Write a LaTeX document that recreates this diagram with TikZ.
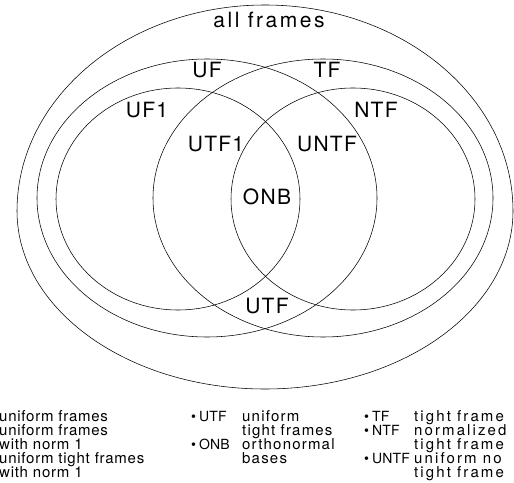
\documentclass[tikz,border=0pt]{standalone}
\usepackage{fontspec}
\setmainfont{TeX Gyre Heros}
\begin{document}
\begin{tikzpicture}[x=1bp,y=-1bp,
  curve/.style={draw=black, line width=0.55bp},
  lbl/.style={inner sep=0pt, anchor=base, font=\fontsize{21bp}{21bp}\selectfont\addfontfeatures{LetterSpace=6}},
  big/.style={inner sep=0pt, anchor=base, font=\fontsize{21bp}{21bp}\selectfont\addfontfeatures{LetterSpace=12}},
  legtag/.style={inner sep=0pt, anchor=base west, font=\fontsize{14bp}{14bp}\selectfont\addfontfeatures{LetterSpace=1}},
  legA/.style={inner sep=0pt, anchor=base west, font=\fontsize{15bp}{15bp}\selectfont\addfontfeatures{LetterSpace=5}},
  legB/.style={inner sep=0pt, anchor=base west, font=\fontsize{15bp}{15bp}\selectfont\addfontfeatures{LetterSpace=8}},
  legC/.style={inner sep=0pt, anchor=base west, font=\fontsize{15bp}{15bp}\selectfont\addfontfeatures{LetterSpace=14}}]
\useasboundingbox (0,0) rectangle (514,483);
\clip (0,0) rectangle (514,483);
% outer egg
\draw[curve] (17,211) arc[start angle=180, end angle=360, x radius=248, y radius=206]
  arc[start angle=0, end angle=180, x radius=248, y radius=178] -- cycle;
% UF and TF
\draw[curve] (207,198) ellipse[x radius=170, y radius=139];
\draw[curve] (323,198) ellipse[x radius=170, y radius=139];
% UF1 and NTF
\draw[curve] (178,199) ellipse[x radius=122, y radius=111];
\draw[curve] (353,199) ellipse[x radius=122, y radius=111];
% labels
\node[big] (all) at (269,28) {all frames};
\node[lbl] (uf) at (207,78) {UF};
\node[lbl] (tf) at (327,78) {TF};
\node[lbl] (uf1) at (147,118) {UF1};
\node[lbl] (ntf) at (376,118) {NTF};
\node[lbl] (utf1) at (216,152) {UTF1};
\node[lbl] (untf) at (327,152) {UNTF};
\node[lbl] (onb) at (267,205) {ONB};
\node[lbl] (utf) at (267,313) {UTF};
% legend column 1
\node[legA] (a1) at (-1,421) {uniform frames};
\node[legA] (a2) at (-1,435) {uniform frames};
\node[legA] (a3) at (-1,449) {with norm 1};
\node[legA] (a4) at (-1,463) {uniform tight frames};
\node[legA] (a5) at (-1,477) {with norm 1};
% legend column 2
\node[legtag] (b1) at (191,421) {\textbullet\hspace{3bp}UTF};
\node[legB] (b2) at (242,421) {uniform};
\node[legB] (b3) at (242,435) {tight frames};
\node[legtag] (b4) at (191,449) {\textbullet\hspace{3bp}ONB};
\node[legB] (b5) at (242,449) {orthonormal};
\node[legB] (b6) at (242,463) {bases};
% legend column 3
\node[legtag] (c1) at (364,421) {\textbullet\hspace{3bp}TF};
\node[legC] (c2) at (414,421) {tight frame};
\node[legtag] (c3) at (364,435) {\textbullet\hspace{3bp}NTF};
\node[legC] (c4) at (414,435) {normalized};
\node[legC] (c5) at (414,449) {tight frame};
\node[legtag] (c6) at (364,463) {\textbullet\hspace{3bp}UNTF};
\node[legC] (c7) at (414,463) {uniform no};
\node[legC] (c8) at (414,477) {tight frame};
\end{tikzpicture}
\end{document}
